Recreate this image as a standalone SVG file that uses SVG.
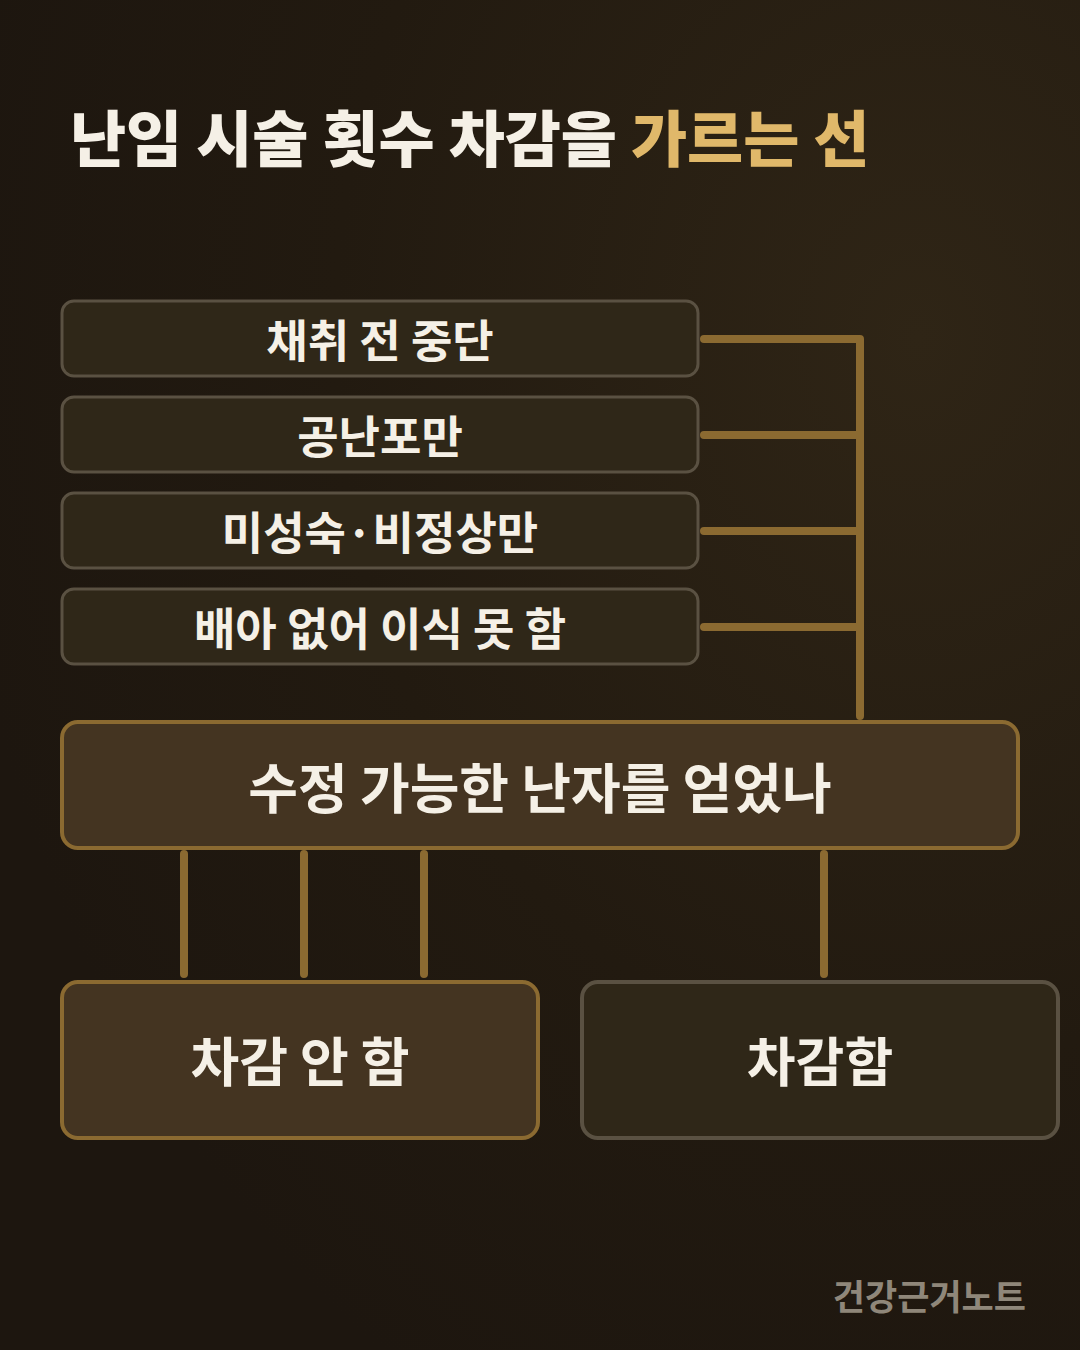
<svg xmlns="http://www.w3.org/2000/svg" width="1080" height="1350" viewBox="0 0 1080 1350">
<defs>
<radialGradient id="bg" cx="0.85" cy="0.25" r="0.9">
<stop offset="0" stop-color="#2f2516"/>
<stop offset="0.6" stop-color="#221a10"/>
<stop offset="1" stop-color="#1d160f"/>
</radialGradient>
<style>
.t{font-family:"Noto Sans CJK KR","Noto Sans",sans-serif;font-weight:700;fill:#f5f0e6;text-anchor:middle}
.sm{fill:#2f2718;stroke:#5a5142;stroke-width:3}
.hl{fill:#443421;stroke:#8b6a31;stroke-width:4}
.dk{fill:#2f2718;stroke:#5a5142;stroke-width:4}
.c{stroke:#8b6a31;stroke-width:8;stroke-linecap:round;fill:none}
</style>
</defs>
<rect width="1080" height="1350" fill="url(#bg)"/>
<text x="70" y="162" font-family="'Noto Sans CJK KR','Noto Sans',sans-serif" font-weight="900" font-size="61" fill="#f5f0e6">난임 시술 횟수 차감을 <tspan fill="#e0b86a">가르는 선</tspan></text>
<g id="connectors">
<path class="c" d="M704 339H860M704 435H860M704 531H860M704 627H860M860 339V716"/>
<path class="c" d="M184 854V974M304 854V974M424 854V974M824 854V974"/>
</g>
<g id="n1"><rect class="sm" x="62" y="301" width="636" height="75" rx="12"/><text class="t" x="380" y="358" font-size="45">채취 전 중단</text></g>
<g id="n2"><rect class="sm" x="62" y="397" width="636" height="75" rx="12"/><text class="t" x="380" y="454" font-size="45">공난포만</text></g>
<g id="n3"><rect class="sm" x="62" y="493" width="636" height="75" rx="12"/><text class="t" x="380" y="550" font-size="45">미성숙·비정상만</text></g>
<g id="n4"><rect class="sm" x="62" y="589" width="636" height="75" rx="12"/><text class="t" x="380" y="646" font-size="45">배아 없어 이식 못 함</text></g>
<g id="q"><rect class="hl" x="62" y="722" width="956" height="126" rx="16"/><text class="t" x="540" y="809" font-size="54">수정 가능한 난자를 얻었나</text></g>
<g id="no"><rect class="hl" x="62" y="982" width="476" height="156" rx="16"/><text class="t" x="300" y="1082" font-size="53">차감 안 함</text></g>
<g id="yes"><rect class="dk" x="582" y="982" width="476" height="156" rx="16"/><text class="t" x="820" y="1082" font-size="53">차감함</text></g>
<text x="1026" y="1310" font-family="'Noto Sans CJK KR','Noto Sans',sans-serif" font-weight="700" font-size="35" fill="#8f877a" text-anchor="end">건강근거노트</text>
</svg>
